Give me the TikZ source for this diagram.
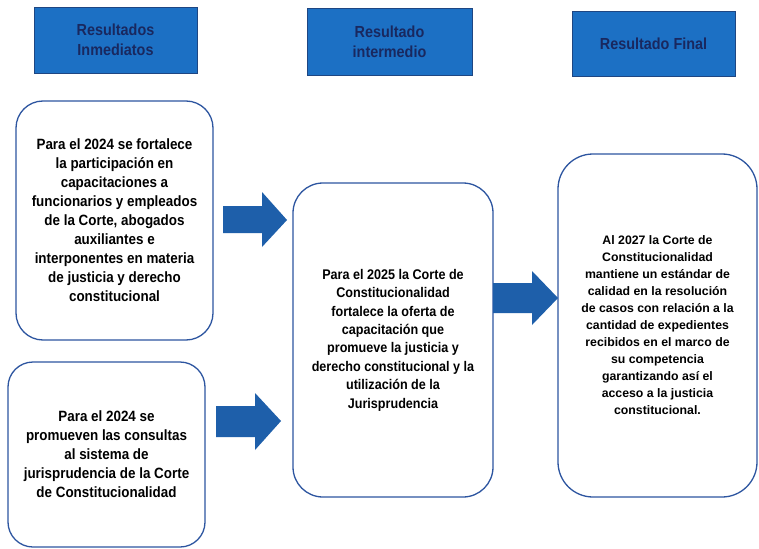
\documentclass[tikz,border=0pt]{standalone}
\usepackage{fontspec}
\setmainfont{Liberation Sans}
\newfontfamily\narrowfont[FakeStretch=0.9]{Liberation Sans}

\definecolor{hdrfill}{RGB}{28,112,196}
\definecolor{hdrline}{RGB}{30,70,130}
\definecolor{hdrtext}{RGB}{25,40,95}
\definecolor{boxline}{RGB}{45,85,160}
\definecolor{arrfill}{RGB}{30,95,170}

\begin{document}
\begin{tikzpicture}[x=1pt,y=-1pt,
  hdr/.style={draw=hdrline, fill=hdrfill, line width=0.8pt, text=hdrtext, align=center,
    font=\narrowfont\bfseries\fontsize{16}{20}\selectfont, inner sep=0pt},
  card/.style={draw=boxline, line width=1.3pt, fill=white, align=center, inner sep=0pt, text=black},
  cardtxt/.style={font=\narrowfont\bfseries\fontsize{14.9}{19}\selectfont},
  blockarrow/.style={fill=arrfill}
]
\useasboundingbox (0,0) rectangle (759,548);
\fill[white] (0,0) rectangle (759,548);

% headers
\node[hdr, minimum width=163pt, minimum height=66pt] (hA) at (115.5,40) {Resultados\\Inmediatos};
\node[hdr, minimum width=165pt, minimum height=67pt] (hB) at (389.5,41.5) {Resultado\\intermedio};
\node[hdr, minimum width=163pt, minimum height=65pt] (hC) at (653.5,43.5) {Resultado Final};

% cards
\node[card, cardtxt, rounded corners=27pt, minimum width=197pt, minimum height=239pt] (bA) at (114.5,220.5)
  {Para el 2024 se fortalece\\la participación en\\capacitaciones a\\funcionarios y empleados\\de la Corte, abogados\\auxiliantes e\\interponentes en materia\\de justicia y derecho\\constitucional};
\node[card, cardtxt, rounded corners=25pt, minimum width=197pt, minimum height=185pt] (bB) at (106.5,454.5)
  {Para el 2024 se\\promueven las consultas\\al sistema de\\jurisprudencia de la Corte\\de Constitucionalidad};
\node[card, font=\narrowfont\bfseries\fontsize{14}{18.4}\selectfont, rounded corners=30pt, minimum width=200pt, minimum height=314pt] (bC) at (393,340)
  {Para el 2025 la Corte de\\Constitucionalidad\\fortalece la oferta de\\capacitación que\\promueve la justicia y\\derecho constitucional y la\\utilización de la\\Jurisprudencia};
\node[card, font=\bfseries\fontsize{12.3}{17}\selectfont, rounded corners=35pt, minimum width=199pt, minimum height=343pt] (bD) at (657.5,325.5)
  {Al 2027 la Corte de\\Constitucionalidad\\mantiene un estándar de\\calidad en la resolución\\de casos con relación a la\\cantidad de expedientes\\recibidos en el marco de\\su competencia\\garantizando así el\\acceso a la justicia\\constitucional.};

% block arrows
\fill[blockarrow] (223,206) -- (262,206) -- (262,192) -- (287,220) -- (262,247) -- (262,233) -- (223,233) -- cycle;
\fill[blockarrow] (216,406) -- (255,406) -- (255,393) -- (281,421) -- (255,450) -- (255,437) -- (216,437) -- cycle;
\fill[blockarrow] (493,283) -- (532,283) -- (532,271) -- (558,298) -- (532,325) -- (532,313) -- (493,313) -- cycle;
\end{tikzpicture}
\end{document}
